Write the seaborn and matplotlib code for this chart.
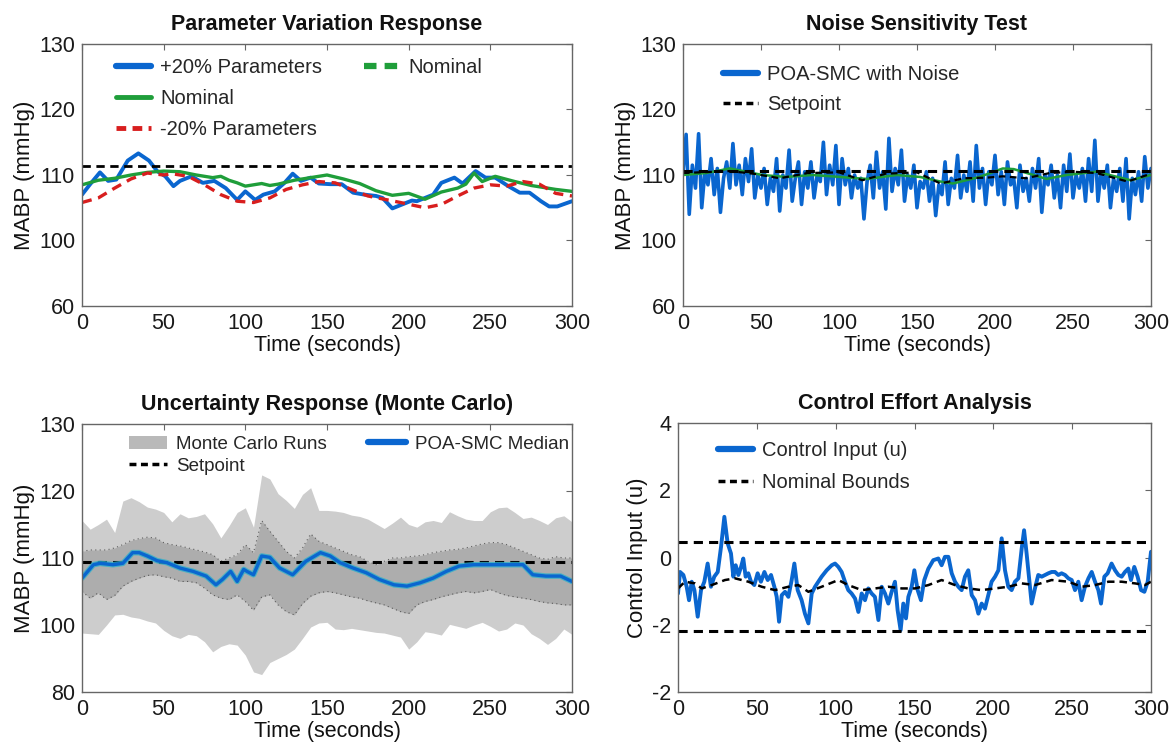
import numpy as np
import matplotlib
matplotlib.use("Agg")
import matplotlib.pyplot as plt
from matplotlib.lines import Line2D
from matplotlib.patches import Patch
import seaborn as sns

# ---------------- data ----------------
# Panel 1: Parameter variation response
tl_plus_t = [0, 5, 11, 16, 21, 28, 34.5, 41, 46, 51, 56, 60, 67, 74, 81, 88, 95, 100, 106, 111,
             118, 124, 129, 134, 140, 145, 152, 159, 166, 173, 180, 184, 190, 196, 202, 205, 210,
             215, 220, 228, 233, 241, 247, 253, 261, 268, 274, 281, 286, 291, 300]
tl_plus_v = [107.0, 108.6, 110.4, 109.1, 109.3, 112.2, 113.3, 112.2, 110.6, 109.8, 108.3, 109.1,
             109.8, 108.8, 109.1, 108.0, 106.2, 107.5, 106.2, 107.0, 107.5, 108.8, 110.2, 109.1,
             109.6, 108.7, 108.6, 108.6, 107.3, 107.0, 106.8, 106.5, 104.9, 105.5, 106.1, 106.0,
             106.5, 107.0, 108.8, 109.6, 108.7, 110.6, 109.6, 109.6, 108.3, 107.3, 107.3, 106.0,
             105.2, 105.2, 106.0]
tl_nom_t = [0, 10, 20, 30, 40, 50, 60, 70, 80, 85, 90, 95, 100, 110, 115, 120, 130, 140, 150, 160,
            170, 180, 190, 200, 210, 220, 230, 235, 240, 245, 253, 265, 275, 290, 300]
tl_nom_v = [108.5, 109.2, 109.5, 110.0, 110.4, 110.6, 110.5, 110.0, 109.6, 109.8, 109.2, 108.8,
            108.3, 108.7, 108.4, 108.6, 109.2, 109.6, 110.0, 109.4, 108.7, 107.6, 106.9, 107.2,
            106.3, 107.4, 108.0, 108.6, 110.3, 109.0, 109.8, 109.0, 108.4, 107.8, 107.5]
tl_minus_t = [0, 10, 20, 30, 40, 50, 55, 65, 75, 85, 95, 105, 115, 125, 135, 145, 155, 165, 175,
              185, 195, 210, 220, 230, 240, 250, 260, 270, 280, 290, 300]
tl_minus_v = [105.8, 106.5, 108.0, 109.4, 110.3, 110.0, 110.2, 109.8, 108.5, 107.0, 106.0, 105.8,
              106.5, 107.8, 108.5, 109.0, 108.8, 107.8, 106.8, 106.3, 105.8, 105.0, 105.5, 106.8,
              108.0, 108.5, 108.3, 109.0, 108.6, 107.2, 106.8]
tl_setpoint = 111.3

# Panel 2: Noise sensitivity
tr_t = np.arange(0, 301, 2)
tr_noise = [110.5, 116.2, 104.0, 111.5, 108.0, 116.3, 105.0, 110.5, 108.5, 112.5,
            107.0, 111.0, 104.3, 109.5, 112.0, 108.0, 114.8, 108.5, 111.5, 107.0,
            112.5, 109.0, 114.0, 106.5, 110.0, 108.0, 111.0, 105.5, 109.5, 107.5,
            112.5, 104.5, 110.0, 108.0, 113.8, 106.0, 109.5, 112.0, 105.5, 110.5,
            108.0, 112.0, 106.5, 110.0, 109.0, 115.0, 107.0, 111.5, 108.5, 114.5,
            105.5, 112.5, 108.5, 111.0, 106.5, 110.0, 108.0, 109.5, 103.3, 109.0,
            111.5, 106.5, 113.5, 108.0, 110.5, 104.8, 115.6, 107.5, 111.0, 108.5,
            113.8, 106.0, 110.0, 108.0, 111.5, 105.0, 109.0, 108.0, 110.5, 106.0,
            109.5, 103.8, 108.5, 107.0, 112.0, 105.5, 109.5, 108.0, 113.0, 106.5,
            110.0, 107.5, 112.0, 106.0, 114.5, 108.0, 111.0, 105.5, 110.5, 108.5,
            113.0, 107.0, 110.5, 105.5, 112.0, 108.5, 109.5, 105.0, 111.5, 107.5,
            109.5, 106.0, 111.0, 108.0, 112.5, 104.3, 110.0, 108.5, 111.5, 106.5,
            110.0, 105.0, 111.5, 107.5, 113.2, 106.5, 110.0, 108.0, 111.0, 106.0,
            112.5, 107.5, 115.3, 106.0, 110.5, 108.0, 111.5, 105.0, 109.5, 107.5,
            111.0, 106.0, 112.5, 103.3, 109.5, 107.0, 110.5, 106.0, 112.8, 108.0,
            111.0]
tr_green_t = [0, 15, 30, 51, 66, 83, 101, 118, 137, 152, 165, 173, 190, 205, 212, 233, 246, 265, 287, 300]
tr_green_v = [110.0, 110.3, 111.0, 110.0, 109.7, 110.0, 109.7, 109.4, 110.0, 109.7, 109.0, 108.7,
              109.7, 111.0, 110.9, 109.4, 110.0, 110.5, 109.2, 110.0]
tr_ref_t = [0, 30, 45, 62, 80, 100, 115, 130, 150, 165, 180, 195, 205, 220, 235, 250, 265, 285, 300]
tr_ref_v = [110.3, 110.6, 110.2, 109.5, 110.3, 110.4, 109.2, 110.2, 110.4, 108.7, 109.5, 109.6,
            109.8, 109.5, 110.3, 110.5, 110.3, 109.0, 110.2]
tr_setpoint = 110.6

# Panel 3: Monte Carlo uncertainty
bl_t = np.arange(0, 301, 5)
bl_outer_hi = [115.6, 114.3, 115.0, 115.8, 113.8, 118.5, 119.0, 118.4, 117.6, 117.3,
               116.8, 115.4, 116.6, 116.0, 116.2, 116.6, 115.1, 113.0, 114.8, 116.8,
               117.5, 114.6, 122.4, 121.8, 119.6, 118.6, 117.4, 119.5, 120.5, 117.1,
               117.1, 117.0, 116.8, 116.4, 116.2, 115.8, 115.1, 114.4, 115.2, 116.1,
               115.0, 114.6, 115.4, 115.6, 115.3, 116.9, 116.3, 115.8, 115.6, 115.6,
               116.9, 117.5, 117.6, 116.8, 115.9, 116.1, 115.6, 115.0, 116.0, 116.3,
               115.4]
bl_outer_lo = [98.8, 98.7, 98.6, 100.0, 101.5, 101.6, 101.2, 101.0, 100.6, 100.3,
               99.2, 98.4, 98.0, 98.6, 98.4, 97.5, 96.0, 96.8, 97.2, 97.0,
               95.5, 93.0, 92.6, 94.4, 95.0, 95.6, 96.4, 98.0, 99.7, 100.3,
               100.4, 99.4, 99.3, 99.5, 99.3, 99.1, 98.9, 98.8, 98.5, 98.2,
               96.4, 97.5, 99.0, 98.8, 98.5, 100.1, 99.8, 99.5, 100.0, 100.4,
               99.8, 99.1, 99.4, 100.3, 100.0, 98.7, 98.0, 97.1, 98.0, 99.4,
               98.6]
bl_inner_hi = [111.0, 111.2, 111.2, 111.2, 111.5, 112.0, 112.6, 112.9, 113.1, 113.0,
               112.3, 112.0, 111.8, 111.5, 111.2, 110.9, 110.5, 109.5, 110.0, 110.5,
               112.0, 110.8, 115.6, 114.0, 112.5, 111.0, 110.0, 111.5, 113.6, 112.5,
               112.0, 111.5, 111.0, 110.5, 110.2, 109.5, 109.0, 109.5, 110.0, 110.0,
               110.2, 110.3, 110.5, 110.8, 111.0, 111.2, 111.3, 111.5, 111.8, 112.1,
               112.3, 112.3, 112.0, 111.5, 111.0, 110.5, 110.0, 109.8, 110.2, 110.0,
               110.0]
bl_inner_lo = [105.0, 104.0, 104.8, 103.8, 104.4, 105.8, 106.5, 107.0, 107.4, 107.5,
               107.2, 107.0, 106.5, 106.5, 106.3, 105.5, 104.5, 104.0, 103.8, 104.5,
               103.5, 102.2, 104.2, 104.5, 103.0, 102.0, 101.5, 103.2, 104.3, 104.8,
               105.0, 104.8, 104.5, 104.2, 104.0, 103.6, 103.3, 103.0, 102.5, 102.0,
               101.7, 103.0, 103.5, 103.8, 104.2, 104.5, 104.8, 105.0, 104.8, 105.0,
               105.3, 104.8, 104.4, 104.2, 104.0, 103.8, 103.5, 103.3, 103.2, 103.0,
               103.0]
bl_med_t = [0, 7, 11, 19, 25, 31, 35, 40, 46, 52, 60, 68, 76, 82, 86, 91, 95, 99, 101, 105,
            110, 115, 121, 129, 137, 146, 152, 158, 166, 174, 182, 191, 199, 207, 215, 223,
            231, 240, 248, 256, 264, 270, 276, 284, 293, 300]
bl_med_v = [107.0, 109.0, 109.2, 109.0, 109.2, 110.8, 110.8, 110.3, 109.6, 109.3, 108.5, 108.0,
            107.3, 106.0, 106.8, 108.0, 106.5, 108.3, 108.0, 107.5, 110.3, 110.1, 108.5, 107.5,
            109.5, 110.8, 110.3, 109.3, 108.5, 107.8, 106.8, 106.0, 105.8, 106.3, 107.0, 108.0,
            108.8, 109.0, 109.0, 109.0, 109.0, 109.0, 107.5, 107.3, 107.3, 106.5]
bl_setpoint = 109.4

# Panel 4: Control effort
br_t = [0, 1.3, 3.4, 5.5, 7.0, 8.7, 10.4, 12.5, 14.6, 16.7, 18.8, 20.9, 23.0, 25.2, 27.3, 29.4,
        31.5, 33.6, 35.1, 36.6, 38.3, 40.0, 41.4, 42.9, 44.6, 46.3, 48.4, 50.5, 52.6, 54.8,
        56.9, 59.0, 61.1, 62.6, 64.1, 65.8, 67.9, 70.0, 72.1, 73.8, 75.9, 78.4, 80.5, 82.7,
        84.8, 86.9, 91.1, 94.3, 97.5, 99.6, 101.7, 103.8, 105.9, 108.0, 110.1, 112.3, 114.4,
        116.5, 118.6, 120.7, 122.8, 124.9, 127.1, 129.2, 131.3, 133.4, 135.5, 137.6, 139.3,
        141.2, 142.9, 144.6, 146.1, 148.2, 149.9, 152.0, 154.1, 156.2, 158.8, 161.9, 165.1,
        167.2, 169.3, 171.5, 173.6, 175.7, 177.8, 179.9, 182.0, 184.1, 186.3, 188.4, 190.5,
        192.6, 194.7, 196.8, 198.9, 201.1, 203.2, 205.3, 207.4, 209.5, 211.6, 213.7, 215.9,
        218.0, 219.5, 221.1, 222.6, 224.3, 226.4, 228.5, 230.7, 232.8, 234.9, 237.0, 239.1,
        241.2, 243.3, 245.5, 247.6, 249.7, 251.8, 253.9, 256.0, 258.1, 260.3, 262.4, 264.5,
        266.6, 268.3, 270.4, 272.5, 275.0, 277.2, 279.3, 281.4, 283.5, 285.6, 287.3, 289.4,
        291.5, 293.7, 295.8, 297.9, 300]
br_u = [-1.07, -0.43, -0.52, -0.87, -1.27, -0.72, -0.97, -1.76, -0.97, -0.72, -0.18, -0.87,
        -0.57, -0.43, 0.32, 1.21, 0.42, 0.12, -0.57, -0.23, -0.52, -0.28, -0.03, -0.57, -0.47,
        -0.72, -0.82, -0.47, -0.72, -0.43, -0.67, -0.52, -0.87, -1.17, -1.91, -1.12, -1.02,
        -1.17, -0.67, -0.18, -0.97, -1.27, -1.67, -1.96, -1.07, -0.87, -0.57, -0.38, -0.23,
        -0.18, -0.28, -0.43, -0.72, -0.97, -1.07, -1.22, -1.62, -1.07, -1.27, -0.92, -1.07,
        -1.17, -1.86, -0.87, -1.07, -1.37, -1.02, -0.72, -1.57, -2.16, -1.37, -1.81, -1.17,
        -0.87, -0.38, -0.97, -1.27, -0.67, -0.33, -0.08, -0.03, -0.23, 0.02, 0.02, -0.47,
        -0.72, -0.87, -0.97, -0.57, -0.38, -1.12, -1.27, -1.67, -1.37, -1.52, -1.12, -0.72,
        -0.57, -0.38, 0.57, -0.38, -0.87, -0.97, -0.72, -0.62, 0.27, 0.81, 0.12, -0.57, -1.37,
        -0.92, -0.52, -0.57, -0.52, -0.47, -0.43, -0.43, -0.52, -0.47, -0.52, -0.62, -0.67,
        -0.97, -0.72, -1.27, -0.87, -0.62, -0.43, -0.72, -0.97, -1.37, -0.57, -0.47, -0.18,
        -0.38, -0.52, -0.57, -0.43, -0.33, -0.67, -0.28, -0.57, -0.97, -1.02, -0.72, 0.17]
br_nom_t = [0, 4.4, 10.8, 15, 21.4, 29.8, 36.2, 44.6, 53.1, 61.5, 70, 76.3, 82.7, 91.1, 101.7,
            108, 116.5, 125, 133.4, 141.9, 150.3, 158.8, 167.2, 175.7, 184.1, 192.6, 201, 209.5,
            218, 226.4, 237, 247.6, 256, 264.5, 273, 281.4, 289.9, 296.2, 300]
br_nom_u = [-0.92, -0.72, -0.77, -0.92, -0.82, -0.67, -0.62, -0.72, -0.87, -0.97, -0.87, -0.82,
            -1.02, -0.87, -0.67, -0.82, -0.97, -0.92, -0.87, -0.92, -0.92, -0.82, -0.67, -0.82,
            -0.92, -0.97, -0.92, -0.87, -0.77, -0.82, -0.67, -0.72, -0.87, -0.82, -0.72, -0.72,
            -0.77, -0.82, -0.72]
br_bounds = [0.47, -2.18]

xticks = [0, 50, 100, 150, 200, 250, 300]
mabp_tick_pos = [90, 100, 110, 120, 130]
tl_ytick_labels = ["60", "100", "110", "120", "130"]
bl_ytick_labels = ["80", "100", "110", "120", "130"]
br_tick_pos = [-4, -2, 0, 2, 4]
br_ytick_labels = ["-2", "-2", "0", "2", "4"]

# ---------------- style ----------------
sns.set_theme(style="white")
plt.rcParams["font.family"] = ["Liberation Sans", "DejaVu Sans"]
plt.rcParams["axes.edgecolor"] = "#666666"
plt.rcParams["xtick.color"] = "#666666"
plt.rcParams["ytick.color"] = "#666666"
plt.rcParams["xtick.labelcolor"] = "#1a1a1a"
plt.rcParams["ytick.labelcolor"] = "#1a1a1a"

BLUE = "#0a66cf"
GREEN = "#1f9e3a"
RED = "#d81e1e"
DASH = (0, (3, 2))
LEG_DASH = (0, (2, 1.3))
LEG_FS = 14.5

W, H = 1174, 755
fig = plt.figure(figsize=(W / 100, H / 100), dpi=100)


def add_ax(left, right, top, bottom):
    return fig.add_axes([left / W, 1 - bottom / H, (right - left) / W, (bottom - top) / H])


ax1 = add_ax(82, 572, 44, 306)
ax2 = add_ax(683, 1151, 44, 306)
ax3 = add_ax(82, 572, 424, 692)
ax4 = add_ax(678, 1151, 423, 692)


def style_axis(ax, title, ylabel, ypos, ylabels, ylim):
    ax.set_xlim(0, 300)
    ax.set_ylim(*ylim)
    ax.set_xticks(xticks)
    ax.set_yticks(ypos)
    ax.set_yticklabels(ylabels)
    ax.tick_params(axis="both", direction="in", length=4, width=0.8, labelsize=15.5,
                   top=True, right=True, pad=5)
    for s in ax.spines.values():
        s.set_linewidth(1.0)
        s.set_color("#666666")
    ax.set_title(title, fontsize=15.5, fontweight="bold", pad=10, color="#111111")
    ax.set_xlabel("Time (seconds)", fontsize=15.5, labelpad=1, color="#111111")
    ax.set_ylabel(ylabel, fontsize=16, labelpad=3, color="#111111")


# Panel 1
sns.lineplot(x=tl_plus_t, y=tl_plus_v, ax=ax1, color=BLUE, linewidth=2.8, label="+20% Parameters")
sns.lineplot(x=tl_nom_t, y=tl_nom_v, ax=ax1, color=GREEN, linewidth=2.4, label="Nominal")
sns.lineplot(x=tl_minus_t, y=tl_minus_v, ax=ax1, color=RED, linewidth=2.4, linestyle=DASH,
             label="-20% Parameters")
ax1.axhline(tl_setpoint, color="black", linewidth=2.0, linestyle=DASH)
style_axis(ax1, "Parameter Variation Response", "MABP (mmHg)", mabp_tick_pos, tl_ytick_labels, (90, 130))
blank = Line2D([], [], alpha=0)
h1 = [Line2D([], [], color=BLUE, lw=4.5),
      Line2D([], [], color=GREEN, lw=3.5),
      Line2D([], [], color=RED, lw=3.5, linestyle=LEG_DASH),
      Line2D([], [], color=GREEN, lw=4.5, linestyle=LEG_DASH),
      blank, blank]
l1 = ["+20% Parameters", "Nominal", "-20% Parameters", "Nominal", "", ""]
ax1.legend(h1, l1, ncol=2, loc="upper left", bbox_to_anchor=(0.04, 1.0), frameon=False,
           fontsize=LEG_FS, handlelength=1.75, handletextpad=0.45, labelspacing=0.6,
           columnspacing=2.1, borderaxespad=0.3)

# Panel 2
sns.lineplot(x=tr_t, y=tr_noise, ax=ax2, color=BLUE, linewidth=2.6, label="POA-SMC with Noise")
sns.lineplot(x=tr_green_t, y=tr_green_v, ax=ax2, color=GREEN, linewidth=1.8)
sns.lineplot(x=tr_ref_t, y=tr_ref_v, ax=ax2, color="black", linewidth=1.6, linestyle=DASH)
ax2.axhline(tr_setpoint, color="black", linewidth=2.2, linestyle=DASH)
style_axis(ax2, "Noise Sensitivity Test", "MABP (mmHg)", mabp_tick_pos, tl_ytick_labels, (90, 130))
h2 = [Line2D([], [], color=BLUE, lw=4.5), Line2D([], [], color="black", lw=2.5, linestyle=LEG_DASH)]
ax2.legend(h2, ["POA-SMC with Noise", "Setpoint"], loc="upper left", bbox_to_anchor=(0.055, 0.975),
           frameon=False, fontsize=LEG_FS, handlelength=1.75, handletextpad=0.45, labelspacing=0.55,
           borderaxespad=0.3)

# Panel 3
ax3.fill_between(bl_t, bl_outer_lo, bl_outer_hi, color="#cdcdcd", linewidth=0)
ax3.fill_between(bl_t, bl_inner_lo, bl_inner_hi, color="#a3a3a3", alpha=0.75, linewidth=0)
sns.lineplot(x=bl_t, y=bl_inner_hi, ax=ax3, color="#333333", linewidth=0.8, linestyle=(0, (1, 3)), alpha=0.7)
sns.lineplot(x=bl_t, y=bl_inner_lo, ax=ax3, color="#333333", linewidth=0.8, linestyle=(0, (1, 3)), alpha=0.7)
ax3.axhline(bl_setpoint, color="black", linewidth=2.2, linestyle=DASH)
sns.lineplot(x=bl_med_t, y=bl_med_v, ax=ax3, color="#2fb0c9", linewidth=4.0, alpha=0.8)
sns.lineplot(x=bl_med_t, y=bl_med_v, ax=ax3, color=BLUE, linewidth=2.4)
style_axis(ax3, "Uncertainty Response (Monte Carlo)", "MABP (mmHg)", mabp_tick_pos, bl_ytick_labels, (90, 130))
h3 = [Patch(facecolor="#b9b9b9", edgecolor="none"),
      Line2D([], [], color="black", lw=2.5, linestyle=LEG_DASH),
      Line2D([], [], color=BLUE, lw=4.5), blank]
ax3.legend(h3, ["Monte Carlo Runs", "Setpoint", "POA-SMC Median", ""], ncol=2, loc="upper left",
           bbox_to_anchor=(0.07, 1.005), frameon=False, fontsize=13.5, handlelength=2.0,
           handletextpad=0.5, labelspacing=0.25, columnspacing=2.2, borderaxespad=0.3)

# Panel 4
sns.lineplot(x=br_t, y=br_u, ax=ax4, color=BLUE, linewidth=2.8, label="Control Input (u)")
sns.lineplot(x=br_nom_t, y=br_nom_u, ax=ax4, color="black", linewidth=1.8, linestyle=DASH)
for b in br_bounds:
    ax4.axhline(b, color="black", linewidth=2.2, linestyle=DASH)
style_axis(ax4, "Control Effort Analysis", "Control Input (u)", br_tick_pos, br_ytick_labels, (-4, 4))
h4 = [Line2D([], [], color=BLUE, lw=4.5), Line2D([], [], color="black", lw=2.5, linestyle=LEG_DASH)]
ax4.legend(h4, ["Control Input (u)", "Nominal Bounds"], loc="upper left", bbox_to_anchor=(0.055, 0.985),
           frameon=False, fontsize=LEG_FS, handlelength=1.75, handletextpad=0.45, labelspacing=0.62,
           borderaxespad=0.3)

fig.savefig("out.png", dpi=100, facecolor="white")
